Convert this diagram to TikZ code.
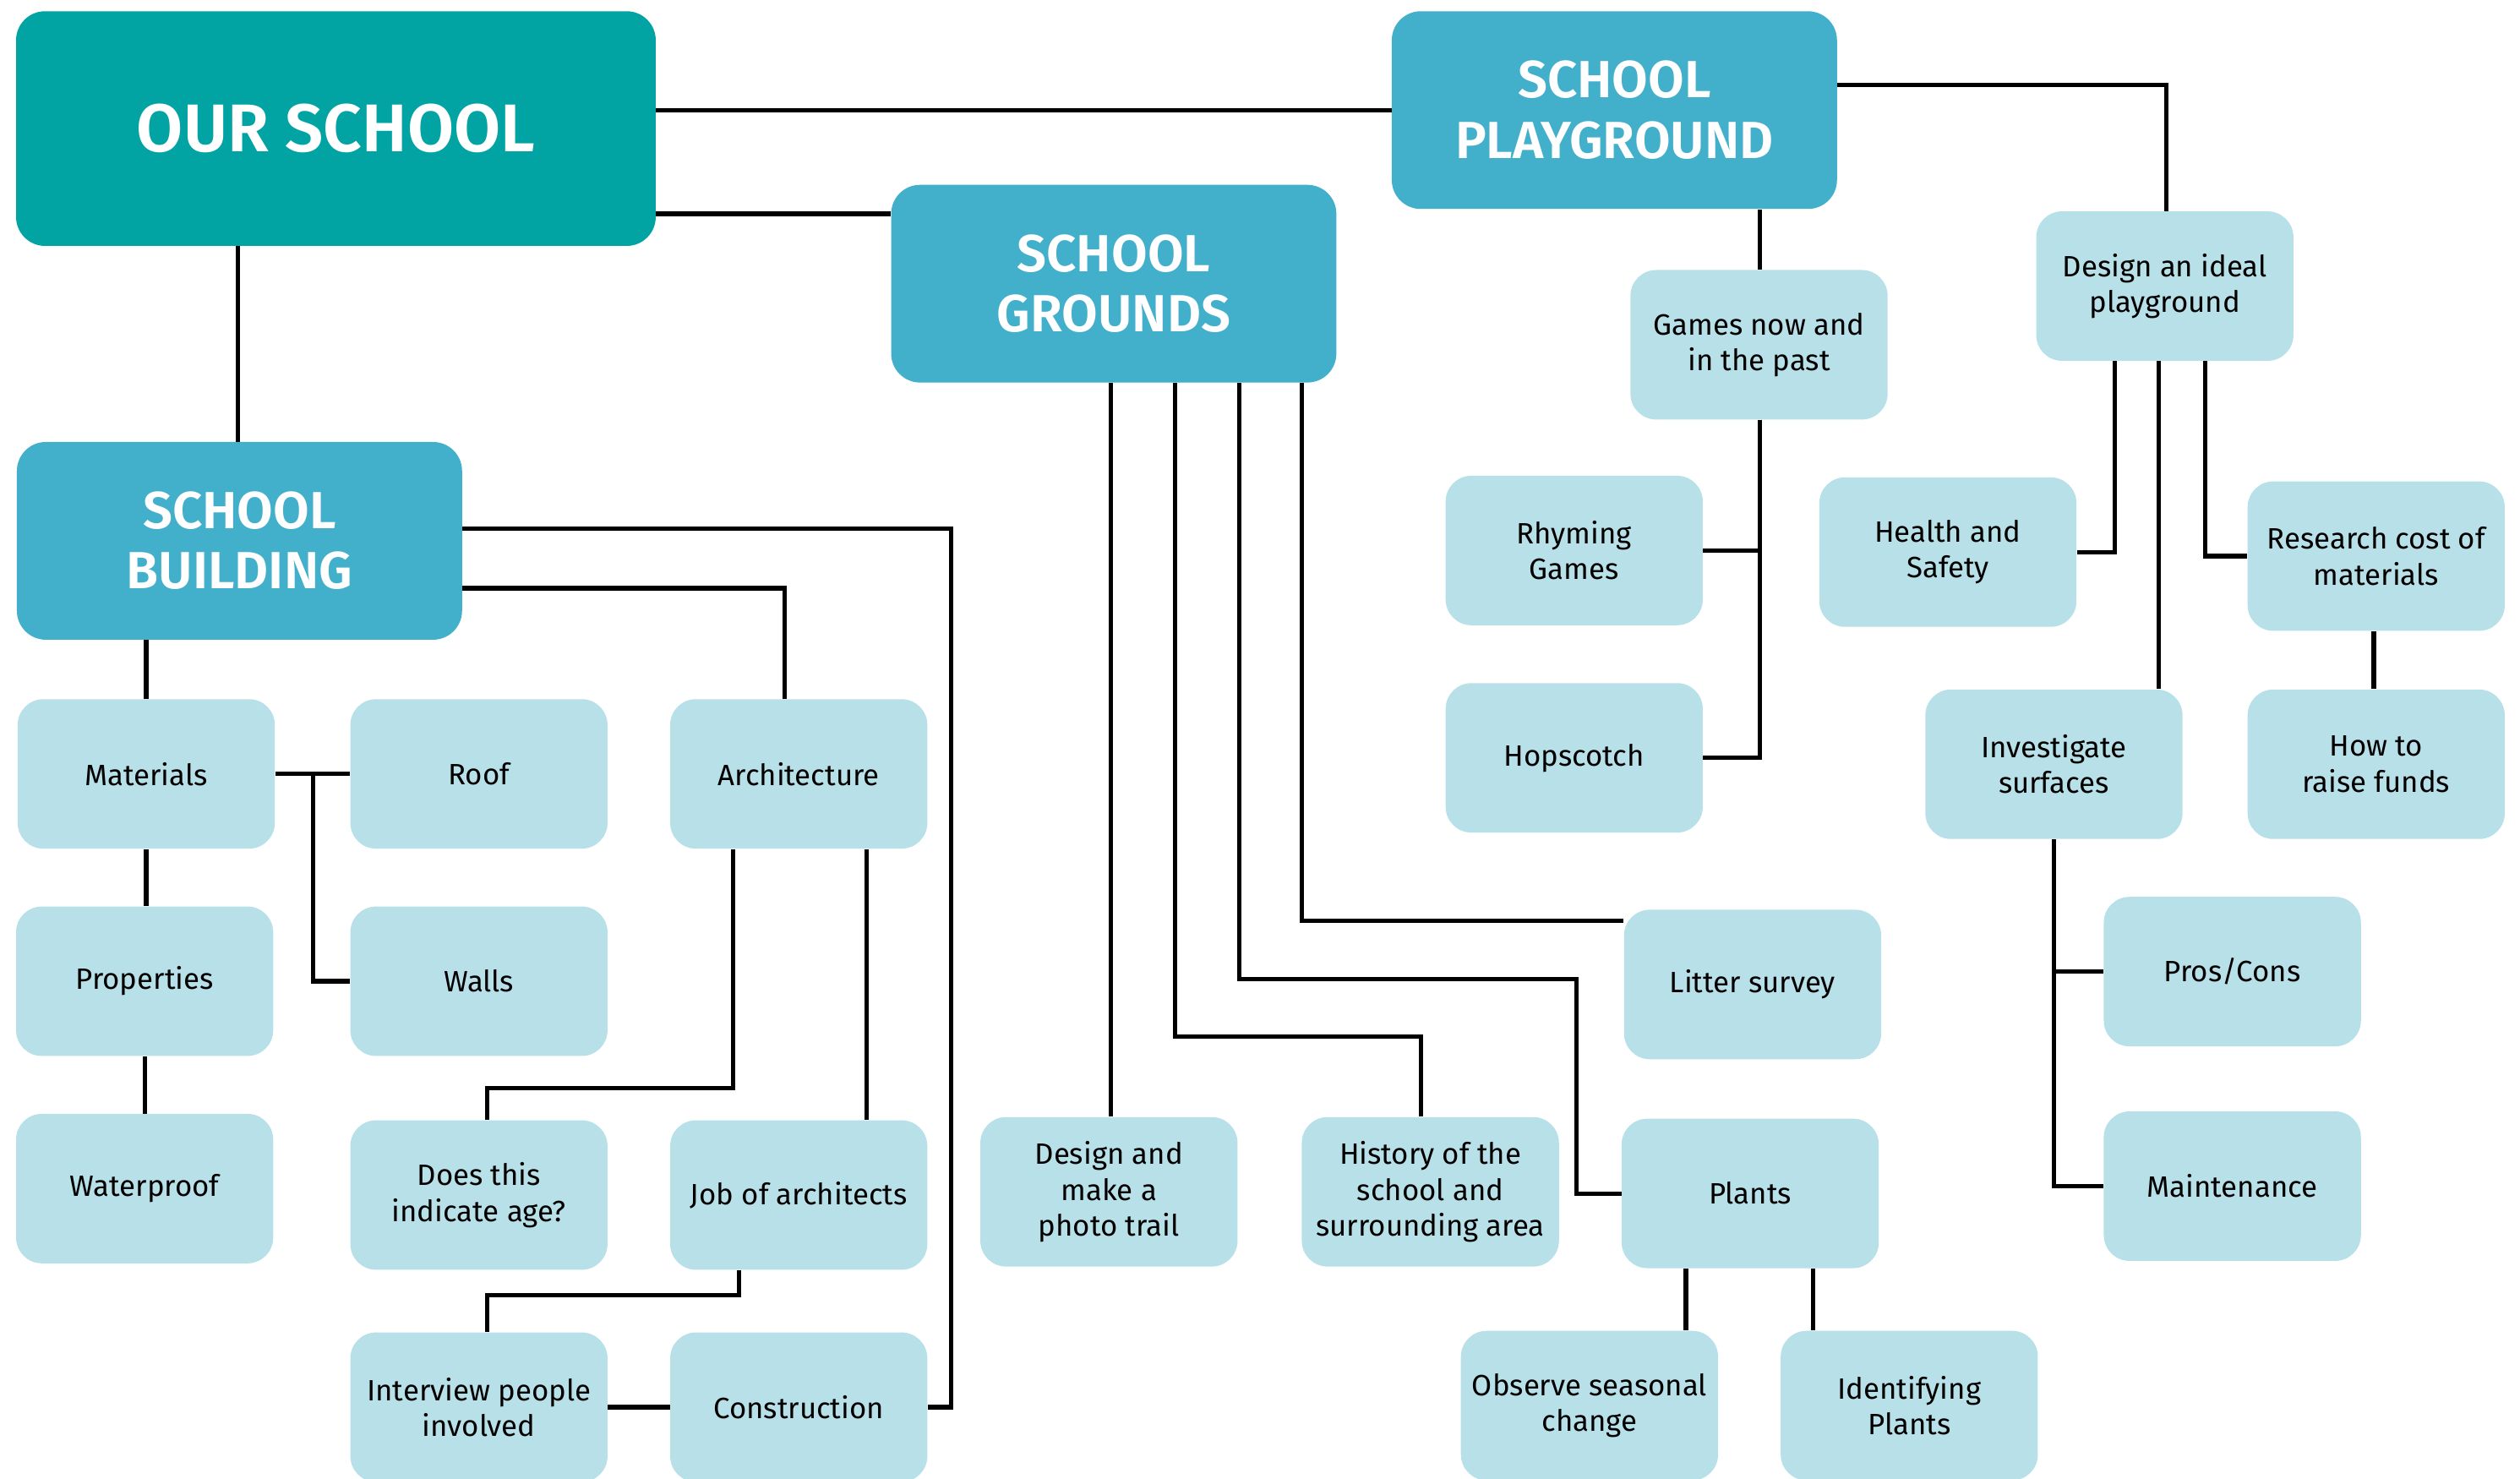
\documentclass[tikz,border=0pt]{standalone}
\usepackage{fontspec}
\setmainfont{Fira Sans}
\newfontfamily\headfont{Fira Sans}[UprightFont=* SemiBold]
\definecolor{teal}{RGB}{2,164,163}
\definecolor{midblue}{RGB}{66,175,203}
\definecolor{paleblue}{RGB}{184,224,232}
\tikzset{
  lbox/.style={fill=paleblue, rounded corners=16pt, minimum width=160pt, minimum height=93pt,
    align=center, inner sep=0pt, font=\fontsize{18.3}{22.3}\selectfont, text=black},
  hbox/.style={fill=midblue, rounded corners=18pt, minimum width=277pt, minimum height=123pt,
    align=center, inner sep=0pt, font=\headfont\fontsize{32.5}{37.5}\selectfont, text=white},
  link/.style={line width=2.7pt, black}
}
\begin{document}
\begin{tikzpicture}[x=1pt,y=-1pt]
\useasboundingbox (0,0) rectangle (1568,920);
\clip (0,0) rectangle (1568,920);
% main nodes
\node[hbox, fill=teal, minimum width=398pt, minimum height=146pt, font=\headfont\fontsize{42}{46}\selectfont] (our) at (209,80) {OUR SCHOOL};
\node[hbox] (play) at (1004.5,68.5) {SCHOOL\\PLAYGROUND};
\node[hbox] (grounds) at (693,176.5) {SCHOOL\\GROUNDS};
\node[hbox] (build) at (149,336.5) {SCHOOL\\BUILDING};
% building
\node[lbox] (mat) at (91,481.5) {Materials};
\node[lbox] (roof) at (298,481.5) {Roof};
\node[lbox] (arch) at (497,481.5) {Architecture};
\node[lbox] (prop) at (90,610.5) {Properties};
\node[lbox] (walls) at (298,610.5) {Walls};
\node[lbox] (wat) at (90,739.5) {Waterproof};
\node[lbox] (does) at (298,743.5) {Does this\\indicate age?};
\node[lbox] (job) at (497,743.5) {Job of architects};
\node[lbox] (inter) at (298,875.5) {Interview people\\involved};
\node[lbox] (constr) at (497,875.5) {Construction};
% grounds
\node[lbox] (photo) at (690,741.5) {Design and\\make a\\photo trail};
\node[lbox] (hist) at (890,741.5) {History of the\\school and\\surrounding area};
\node[lbox] (litter) at (1090.5,612.5) {Litter survey};
\node[lbox] (plants) at (1089,742.5) {Plants};
\node[lbox] (obs) at (989,874.5) {Observe seasonal\\change};
\node[lbox] (ident) at (1188,874.5) {Identifying\\Plants};
% playground
\node[lbox] (games) at (1094.5,214.5) {Games now and\\in the past};
\node[lbox] (ideal) at (1347,178) {Design an ideal\\playground};
\node[lbox] (rhy) at (979.5,342.5) {Rhyming\\Games};
\node[lbox] (health) at (1212,343.5) {Health and\\Safety};
\node[lbox] (res) at (1478.5,346) {Research cost of\\materials};
\node[lbox] (hop) at (979.5,471.5) {Hopscotch};
\node[lbox] (inv) at (1278,475.5) {Investigate\\surfaces};
\node[lbox] (how) at (1478.5,475.5) {How to\\raise funds};
\node[lbox] (pros) at (1389,604.5) {Pros/Cons};
\node[lbox] (maint) at (1389,738) {Maintenance};
% connectors
\coordinate (c1) at (592,329);
\coordinate (c2) at (303,677);
\coordinate (c3) at (303,806);
\coordinate (c4) at (884,645);
\coordinate (c5) at (981,609);
\begin{scope}[link]
\draw (our.east |- play.west) -- (play.west);
\draw (our.east |- 0,133) -- (grounds.west |- 0,133);
\draw (our.south -| 148,0) -- (build.north -| 148,0);
\draw (build.east |- c1) -- (c1) |- (constr.east);
\draw (build.east |- 0,366) -| (arch.north -| 488,0);
\draw (build.south -| 91,0) -- (mat.north);
\draw (mat.south) -- (mat.south |- prop.north);
\draw (prop.south) -- (wat.north);
\draw (mat.east) -- (roof.west);
\draw (mat.east -| 195,0) |- (walls.west);
\draw (arch.south -| 456,0) |- (c2) -- (does.north -| c2);
\draw (arch.south -| 539,0) -- (job.north -| 539,0);
\draw (job.south -| 460,0) |- (c3) -- (inter.north -| c3);
\draw (inter.east) -- (constr.west);
\draw (grounds.south -| 691,0) -- (photo.north -| 691,0);
\draw (grounds.south -| 731,0) |- (c4) -- (hist.north -| c4);
\draw (grounds.south -| 771,0) |- (c5) |- (plants.west);
\draw (grounds.south -| 810,0) |- (litter.west |- 0,573);
\draw (plants.south -| 1049,0) -- (obs.north -| 1049,0);
\draw (plants.south -| 1128,0) -- (ident.north -| 1128,0);
\draw (play.south -| 1095,0) -- (games.north -| 1095,0);
\draw (games.south -| 1095,0) |- (hop.east);
\draw (games.south -| 1095,0) |- (rhy.east);
\draw (play.east |- 0,53) -| (ideal.north -| 1348,0);
\draw (ideal.south -| 1316,0) |- (health.east);
\draw (ideal.south -| 1343,0) -- (inv.north -| 1343,0);
\draw (ideal.south -| 1372,0) |- (res.west);
\draw (res.south -| 1477,0) -- (how.north -| 1477,0);
\draw (inv.south -| 1278,0) |- (pros.west);
\draw (inv.south -| 1278,0) |- (maint.west);
\end{scope}
\end{tikzpicture}
\end{document}
